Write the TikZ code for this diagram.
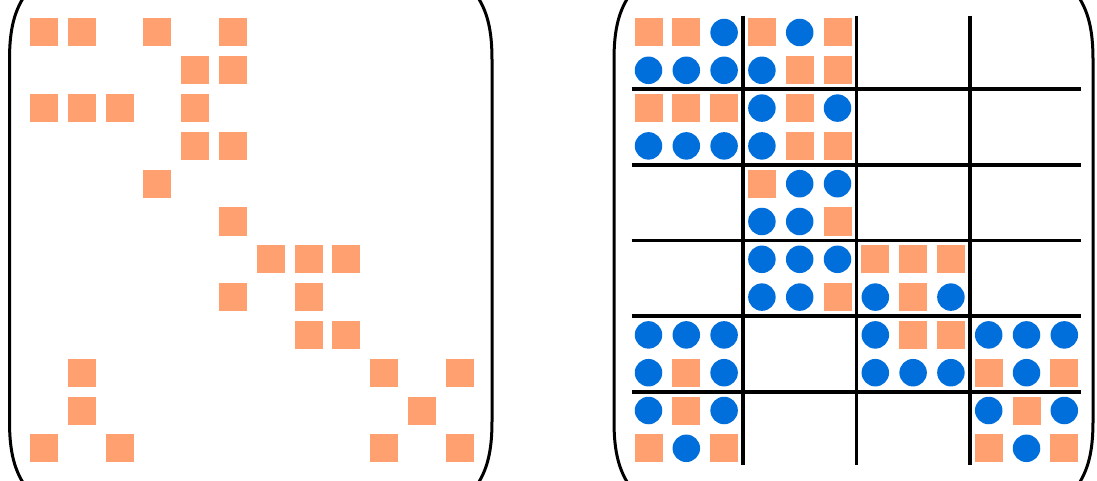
\documentclass[tikz,border=0pt]{standalone}
\usetikzlibrary{calc}
\definecolor{ink}{HTML}{000000}
\definecolor{wsalmon}{HTML}{FFA070}
\definecolor{wblue}{HTML}{006EDB}
\tikzset{el/.style={line cap=round, line join=round},
  cell-s/.style={rectangle, fill=wsalmon, minimum size=28pt, inner sep=0pt},
  cell-c/.style={circle, fill=wblue, minimum size=27.5pt, inner sep=0pt},
  cell-n/.style={inner sep=0pt, minimum size=0pt},
  paren/.style={ink, line width=3pt},
  gridln/.style={ink, line width=3.8pt}}
\def\pitch{37.8}

\begin{document}
\begin{tikzpicture}[el, x=1pt, y=-1pt]
  \useasboundingbox (0,0) rectangle (1097,481);
  % brackets of both matrices
  \foreach \xl/\xr in {9.5/492, 614/1093}{
     \draw[paren] (\xl+15,-4) .. controls (\xl+3,14) and (\xl,35) .. (\xl,60) -- (\xl,421) .. controls (\xl,446) and (\xl+3,467) .. (\xl+15,485);
     \draw[paren] (\xr-15,-4) .. controls (\xr-3,14) and (\xr,35) .. (\xr,60) -- (\xr,421) .. controls (\xr,446) and (\xr-3,467) .. (\xr-15,485);}
  % left: sparsity pattern
  \foreach \r/\cols in {0/{0,1,3,5}, 1/{4,5}, 2/{0,1,2,4}, 3/{4,5}, 4/{3}, 5/{5}, 6/{6,7,8},
                        7/{5,7}, 8/{7,8}, 9/{1,9,11}, 10/{1,10}, 11/{0,2,9,11}}{
     \foreach \c in \cols
        \node[cell-s] (L\r-\c) at (44+\c*\pitch, 32.5+\r*\pitch) {};}
  % right: blocked pattern with fill-in
  \foreach \r/\cells in {0/{s,s,c,s,c,s,n,n,n,n,n,n}, 1/{c,c,c,c,s,s,n,n,n,n,n,n},
                         2/{s,s,s,c,s,c,n,n,n,n,n,n}, 3/{c,c,c,c,s,s,n,n,n,n,n,n},
                         4/{n,n,n,s,c,c,n,n,n,n,n,n}, 5/{n,n,n,c,c,s,n,n,n,n,n,n},
                         6/{n,n,n,c,c,c,s,s,s,n,n,n}, 7/{n,n,n,c,c,s,c,s,c,n,n,n},
                         8/{c,c,c,n,n,n,c,s,s,c,c,c}, 9/{c,s,c,n,n,n,c,c,c,s,c,s},
                         10/{c,s,c,n,n,n,n,n,n,c,s,c}, 11/{s,c,s,n,n,n,n,n,n,s,c,s}}{
     \foreach \k [count=\c from 0] in \cells
        \node[cell-\k] (R\r-\c) at (648.5+\c*\pitch, 32.5+\r*\pitch) {};}
  \foreach \b in {1,2,3}
     \draw[gridln, line cap=butt] (648.5+\b*3*\pitch-0.5*\pitch,15.7) -- (648.5+\b*3*\pitch-0.5*\pitch,465);
  \foreach \b in {1,...,5}
     \draw[gridln, line cap=butt] (631.7,32.5+\b*2*\pitch-0.5*\pitch) -- (1081,32.5+\b*2*\pitch-0.5*\pitch);
\end{tikzpicture}
\end{document}
